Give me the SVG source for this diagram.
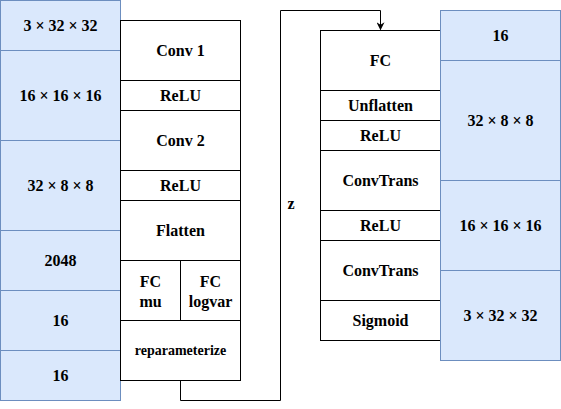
<svg xmlns="http://www.w3.org/2000/svg" width="561" height="409" viewBox="0 0 561 409">
<style>
.b{fill:#dae8fc;stroke:#6c8ebf;stroke-width:1}
.w{fill:#ffffff;stroke:#000000;stroke-width:1}
text{font-family:'Liberation Serif','DejaVu Serif',serif;font-weight:bold;font-size:16px;fill:#000;text-anchor:middle;dominant-baseline:central}
.s{font-size:14px}
</style>
<defs>
<marker id="arr" viewBox="0 0 10 10" refX="9" refY="5" markerWidth="8" markerHeight="8" markerUnits="userSpaceOnUse" orient="auto">
<path d="M0,0 L10,5 L0,10 L3,5 Z" fill="#000"/>
</marker>
</defs>
<rect width="561" height="409" fill="#fff"/>
<g id="enc-shapes" font-family="Liberation Serif, DejaVu Serif, serif">
<g id="in-shape"><rect class="b" x="0.5" y="0.5" width="120" height="50"/><text x="60.5" y="25.5">3 × 32 × 32</text></g>
<g id="s1"><rect class="b" x="0.5" y="50.5" width="120" height="90"/><text x="60.5" y="95.5">16 × 16 × 16</text></g>
<g id="s2"><rect class="b" x="0.5" y="140.5" width="120" height="90"/><text x="60.5" y="185.5">32 × 8 × 8</text></g>
<g id="s3"><rect class="b" x="0.5" y="230.5" width="120" height="60"/><text x="60.5" y="260.5">2048</text></g>
<g id="s4"><rect class="b" x="0.5" y="290.5" width="120" height="60"/><text x="60.5" y="320.5">16</text></g>
<g id="s5"><rect class="b" x="0.5" y="350.5" width="120" height="50"/><text x="60.5" y="375.5">16</text></g>
</g>
<g id="encoder">
<g id="conv1"><rect class="w" x="120.5" y="20.5" width="120" height="60"/><text x="180.5" y="50.5">Conv 1</text></g>
<g id="relu1"><rect class="w" x="120.5" y="80.5" width="120" height="30"/><text x="180.5" y="95.5">ReLU</text></g>
<g id="conv2"><rect class="w" x="120.5" y="110.5" width="120" height="60"/><text x="180.5" y="140.5">Conv 2</text></g>
<g id="relu2"><rect class="w" x="120.5" y="170.5" width="120" height="30"/><text x="180.5" y="185.5">ReLU</text></g>
<g id="flatten"><rect class="w" x="120.5" y="200.5" width="120" height="60"/><text x="180.5" y="230.5">Flatten</text></g>
<g id="fcmu"><rect class="w" x="120.5" y="260.5" width="60" height="60"/><text x="150.5" y="281.5">FC</text><text x="150.5" y="301.5">mu</text></g>
<g id="fclogvar"><rect class="w" x="180.5" y="260.5" width="60" height="60"/><text x="210.5" y="281.5">FC</text><text x="210.5" y="301.5">logvar</text></g>
<g id="reparam"><rect class="w" x="120.5" y="320.5" width="120" height="60"/><text class="s" x="180.5" y="350.5">reparameterize</text></g>
</g>
<g id="decoder">
<g id="fc"><rect class="w" x="320.5" y="30.5" width="120" height="60"/><text x="380.5" y="60.5">FC</text></g>
<g id="unflatten"><rect class="w" x="320.5" y="90.5" width="120" height="30"/><text x="380.5" y="105.5">Unflatten</text></g>
<g id="relu3"><rect class="w" x="320.5" y="120.5" width="120" height="30"/><text x="380.5" y="135.5">ReLU</text></g>
<g id="convt1"><rect class="w" x="320.5" y="150.5" width="120" height="60"/><text x="380.5" y="180.5">ConvTrans</text></g>
<g id="relu4"><rect class="w" x="320.5" y="210.5" width="120" height="30"/><text x="380.5" y="225.5">ReLU</text></g>
<g id="convt2"><rect class="w" x="320.5" y="240.5" width="120" height="60"/><text x="380.5" y="270.5">ConvTrans</text></g>
<g id="sigmoid"><rect class="w" x="320.5" y="300.5" width="120" height="40"/><text x="380.5" y="320.5">Sigmoid</text></g>
</g>
<g id="dec-shapes">
<g id="d1"><rect class="b" x="440.5" y="10.5" width="120" height="50"/><text x="500.5" y="35.5">16</text></g>
<g id="d2"><rect class="b" x="440.5" y="60.5" width="120" height="120"/><text x="500.5" y="120.5">32 × 8 × 8</text></g>
<g id="d3"><rect class="b" x="440.5" y="180.5" width="120" height="90"/><text x="500.5" y="225.5">16 × 16 × 16</text></g>
<g id="d4"><rect class="b" x="440.5" y="270.5" width="120" height="90"/><text x="500.5" y="315.5">3 × 32 × 32</text></g>
</g>
<g id="connectors">
<path d="M180.5,380.5 V400.5 H280.5 V10.5 H380.5 V29.5" fill="none" stroke="#000" stroke-width="1" marker-end="url(#arr)"/>
<text x="291" y="203.5">z</text>
</g>
</svg>
